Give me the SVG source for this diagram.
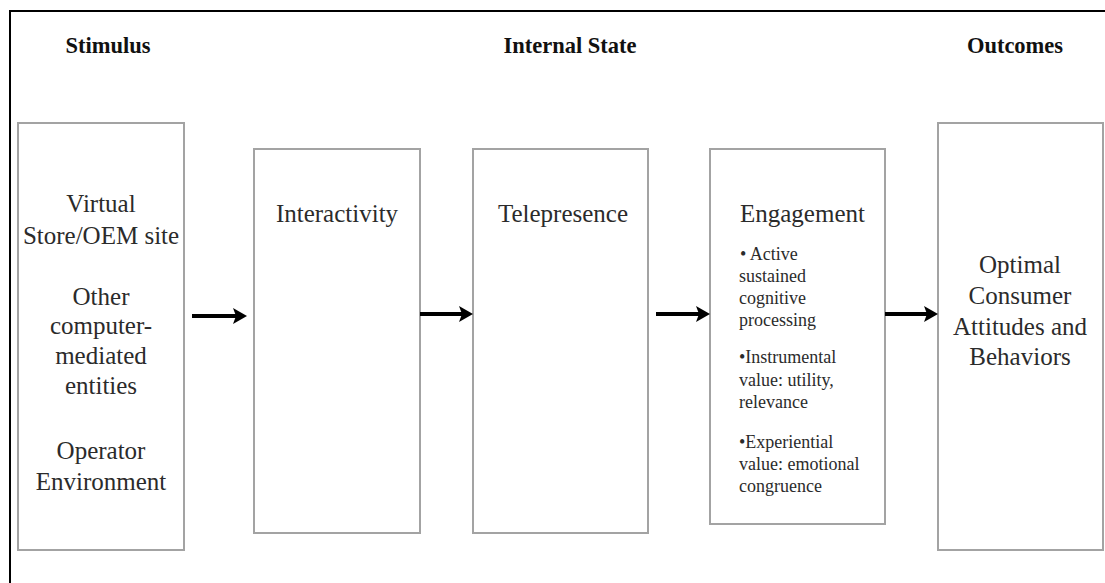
<svg xmlns="http://www.w3.org/2000/svg" width="1105" height="583" viewBox="0 0 1105 583">
<style>
.box{fill:#fff;stroke:#a3a3a3;stroke-width:2}
.hdr{font-family:"Liberation Serif",serif;font-weight:bold;font-size:22.5px;fill:#111;text-anchor:middle}
.t{font-family:"Liberation Serif",serif;font-size:25px;fill:#2b2b2b}
.c{text-anchor:middle}
.s{font-family:"Liberation Serif",serif;font-size:18px;fill:#2b2b2b}
.arr{stroke:#000;stroke-width:4;fill:none}
.head{fill:#000}
</style>
<rect width="1105" height="583" fill="#fff"/>
<g id="frame">
<line x1="9" y1="11" x2="1105" y2="11" stroke="#000" stroke-width="2"/>
<line x1="10" y1="10" x2="10" y2="583" stroke="#000" stroke-width="2"/>
</g>
<g id="headers">
<text class="hdr" x="108" y="53">Stimulus</text>
<text class="hdr" x="570" y="53">Internal State</text>
<text class="hdr" x="1015" y="53">Outcomes</text>
</g>
<g id="stimulus">
<rect class="box" x="18" y="123" width="166" height="427"/>
<text class="t c" x="101" y="212">Virtual</text>
<text class="t c" x="101" y="244">Store/OEM site</text>
<text class="t c" x="101" y="305">Other</text>
<text class="t c" x="101" y="334">computer-</text>
<text class="t c" x="101" y="364">mediated</text>
<text class="t c" x="101" y="394">entities</text>
<text class="t c" x="101" y="459">Operator</text>
<text class="t c" x="101" y="490">Environment</text>
</g>
<g id="interactivity">
<rect class="box" x="254" y="149" width="166" height="384"/>
<text class="t c" x="337" y="222">Interactivity</text>
</g>
<g id="telepresence">
<rect class="box" x="473" y="149" width="175" height="384"/>
<text class="t c" x="563" y="222">Telepresence</text>
</g>
<g id="engagement">
<rect class="box" x="710" y="149" width="175" height="375"/>
<text class="t" x="740" y="222">Engagement</text>
<text class="s" x="740" y="260">• Active</text>
<text class="s" x="739" y="282">sustained</text>
<text class="s" x="739" y="304">cognitive</text>
<text class="s" x="739" y="326">processing</text>
<text class="s" x="739" y="363">•Instrumental</text>
<text class="s" x="739" y="386">value: utility,</text>
<text class="s" x="739" y="408">relevance</text>
<text class="s" x="739" y="448">•Experiential</text>
<text class="s" x="739" y="470">value: emotional</text>
<text class="s" x="739" y="492">congruence</text>
</g>
<g id="outcomes">
<rect class="box" x="938" y="123" width="165" height="427"/>
<text class="t c" x="1020" y="273">Optimal</text>
<text class="t c" x="1020" y="304">Consumer</text>
<text class="t c" x="1020" y="335">Attitudes and</text>
<text class="t c" x="1020" y="365">Behaviors</text>
</g>
<g id="connectors">
<line class="arr" x1="192" y1="316" x2="238" y2="316"/>
<path class="head" d="M233,308 L247,316 L233,324 L236,316 Z"/>
<line class="arr" x1="420" y1="314" x2="464" y2="314"/>
<path class="head" d="M459,306 L473,314 L459,322 L462,314 Z"/>
<line class="arr" x1="656" y1="314" x2="701" y2="314"/>
<path class="head" d="M696,306 L710,314 L696,322 L699,314 Z"/>
<line class="arr" x1="885" y1="314" x2="929" y2="314"/>
<path class="head" d="M924,306 L938,314 L924,322 L927,314 Z"/>
</g>
</svg>
